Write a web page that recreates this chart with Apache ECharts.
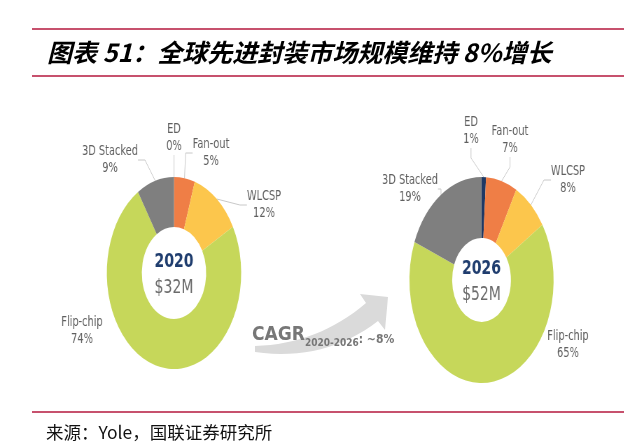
<!DOCTYPE html>
<html>
<head>
<meta charset="utf-8">
<script src="https://cdn.jsdelivr.net/npm/echarts@6/dist/echarts.min.js"></script>
<style>
  html, body { margin: 0; padding: 0; background: #fff; }
  #wrap { position: relative; width: 640px; height: 447px; overflow: hidden; }
  #main { position: absolute; left: 0; top: 0; width: 640px; height: 447px; }
  /* the source picture is squeezed sideways, so the donuts are drawn wide and squeezed back */
  #pies { position: absolute; left: 0; top: 0; width: 915px; height: 447px; transform: scaleX(0.7); transform-origin: 0 0; }
</style>
</head>
<body>
<div id="wrap">
  <div id="main"></div>
  <div id="pies"></div>
</div>
<script>
var sliceNames = ['ED', 'Fan-out', 'WLCSP', 'Flip-chip', '3D Stacked'];
var share2020 = [0, 5, 12, 74, 9];
var share2026 = [1, 7, 8, 65, 19];
var years = ['2020', '2026'];
var marketSize = ['$32M', '$52M'];
var sliceColors = ['#1f3864', '#ef7e46', '#fcc64c', '#c6d75a', '#7f7f7f'];

// 二次贝塞尔取点，用来画箭头的弯曲箭身
function quadPoints(p0, c, p1, n) {
    var pts = [];
    for (var i = 0; i <= n; i++) {
        var t = i / n, u = 1 - t;
        pts.push([u * u * p0[0] + 2 * u * t * c[0] + t * t * p1[0], u * u * p0[1] + 2 * u * t * c[1] + t * t * p1[1]]);
    }
    return pts;
}

window.onload = function () {
    var SX = 0.7;

    // 箭头：上沿 + 箭头 + 下沿（反向）
    var upper = quadPoints([255, 346], [318, 344], [366, 303], 16);
    var lower = quadPoints([378, 321], [325, 362], [255, 352], 16);
    var arrowPts = upper.concat([[360, 294], [388, 297], [385, 330]]).concat(lower);

    // 标题、红线、来源、CAGR 箭头
    var myChart = echarts.init(document.getElementById('main'));
    myChart.setOption({
        animation: false,
        graphic: [
            { type: 'line', shape: { x1: 32, y1: 29, x2: 624, y2: 29 }, style: { stroke: '#b5173d', lineWidth: 1.6 } },
            { type: 'line', shape: { x1: 32, y1: 76, x2: 624, y2: 76 }, style: { stroke: '#b5173d', lineWidth: 1.6 } },
            { type: 'line', shape: { x1: 32, y1: 412, x2: 624, y2: 412 }, style: { stroke: '#b5173d', lineWidth: 1.6 } },
            {
                type: 'text', x: 47, y: 52,
                style: {
                    text: '图表 51：全球先进封装市场规模维持 8%增长',
                    font: 'italic bold 25px "Noto Sans CJK SC"',
                    fill: '#000',
                    verticalAlign: 'middle'
                }
            },
            {
                type: 'text', x: 46, y: 432,
                style: {
                    text: '来源：Yole，国联证券研究所',
                    font: '17.5px "Noto Sans CJK SC"',
                    fill: '#111',
                    verticalAlign: 'middle'
                }
            },
            {
                type: 'polygon', z: 1,
                shape: { points: arrowPts },
                style: { fill: '#dadada' }
            },
            {
                type: 'text', z: 5, x: 252, y: 345,
                style: {
                    text: '{a|CAGR}{b|2020-2026}{c|: ~8%}',
                    verticalAlign: 'bottom',
                    rich: {
                        a: { font: 'bold 19px "DejaVu Sans Condensed"', fill: '#777', verticalAlign: 'bottom' },
                        b: { font: 'bold 10px "DejaVu Sans Condensed"', fill: '#777', verticalAlign: 'bottom', padding: [0, 0, -3, 0] },
                        c: { font: 'bold 12px "DejaVu Sans Condensed"', fill: '#777', verticalAlign: 'bottom', padding: [0, 0, -1, 0] }
                    }
                }
            }
        ]
    });

    // 两个环形图
    var centers = [[174 / SX, 273], [481.5 / SX, 280]];
    var radii = [[46, 96], [42, 103]];
    // label spots in page pixels, one row per donut, same order as sliceNames
    var labelSpots = [
        [[174, 138], [211, 153], [264, 205], [82, 331], [110, 160]],
        [[471, 131], [510, 140], [568, 180], [568, 345], [410, 189]]
    ];

    function makePie(k, shares) {
        return {
            type: 'pie',
            center: centers[k],
            radius: radii[k],
            startAngle: 90,
            clockwise: true,
            avoidLabelOverlap: false,
            emphasis: { disabled: true },
            label: {
                show: true,
                position: 'outside',
                formatter: '{b}\n{c}%',
                color: '#5f5f5f',
                fontSize: 14,
                lineHeight: 17,
                fontFamily: 'DejaVu Sans',
                align: 'center'
            },
            labelLine: { show: true, length: 10, length2: 10, lineStyle: { color: '#c8c8c8', width: 1 } },
            labelLayout: function (params) {
                var p = labelSpots[k][params.dataIndex];
                return { x: p[0] / SX, y: p[1], align: 'center', verticalAlign: 'middle' };
            },
            data: sliceNames.map(function (n, i) {
                var item = { name: n, value: shares[i], itemStyle: { color: sliceColors[i] } };
                if (n === 'Flip-chip') item.labelLine = { show: false };
                return item;
            })
        };
    }

    var myChartPies = echarts.init(document.getElementById('pies'));
    var centerTexts = [];
    for (var k = 0; k < years.length; k++) {
        centerTexts.push({
            type: 'text', x: centers[k][0], y: centers[k][1] - 11.5,
            style: { text: years[k], font: 'bold 20px "DejaVu Sans"', fill: '#1f3d6e', align: 'center', verticalAlign: 'middle' }
        });
        centerTexts.push({
            type: 'text', x: centers[k][0], y: centers[k][1] + 15,
            style: { text: marketSize[k], font: '20px "DejaVu Sans"', fill: '#6b6b6b', align: 'center', verticalAlign: 'middle' }
        });
    }
    myChartPies.setOption({
        animation: false,
        graphic: centerTexts,
        series: [makePie(0, share2020), makePie(1, share2026)]
    });
};
</script>
</body>
</html>
